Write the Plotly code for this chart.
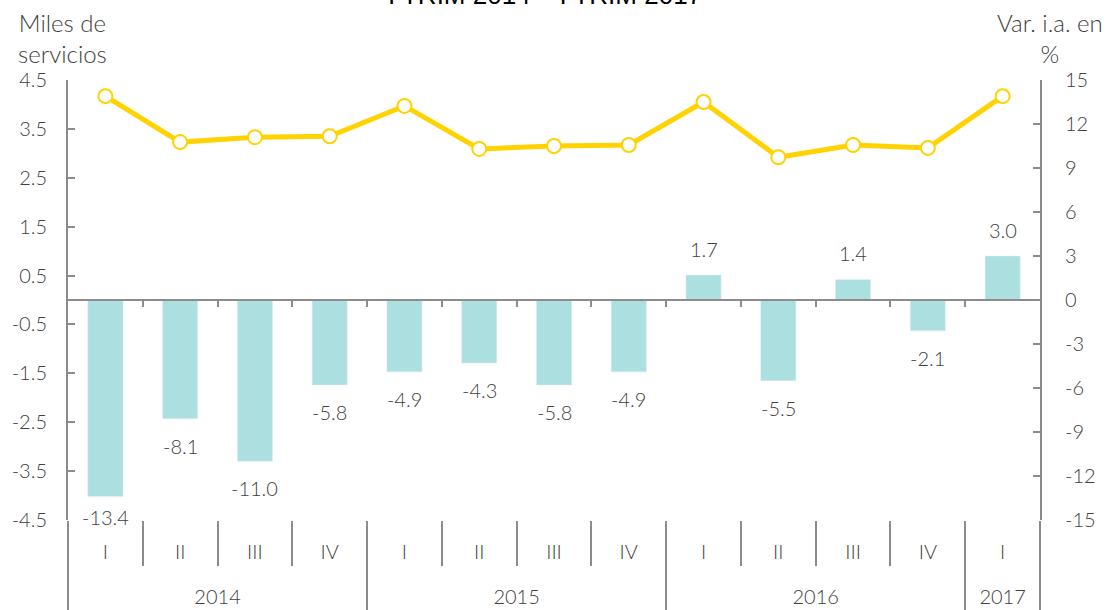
import plotly.graph_objects as go

years = ["2014"] * 4 + ["2015"] * 4 + ["2016"] * 4 + ["2017"]
quarters = ["I", "II", "III", "IV"] * 3 + ["I"]
var_pct = [-13.4, -8.1, -11.0, -5.8, -4.9, -4.3, -5.8, -4.9, 1.7, -5.5, 1.4, -2.1, 3.0]
miles_servicios = [4.17, 3.23, 3.33, 3.35, 3.97, 3.09, 3.15, 3.17, 4.05, 2.92, 3.17, 3.11, 4.17]
left_ticks = [-4.5, -3.5, -2.5, -1.5, -0.5, 0.5, 1.5, 2.5, 3.5, 4.5]
right_ticks = [-15, -12, -9, -6, -3, 0, 3, 6, 9, 12, 15]
title_text = "I TRIM 2014 – I TRIM 2017"
left_title = "Miles de<br>servicios"
right_title = "Var. i.a. en<br>%"

FONT = "Lato"
W = 300
TXT = "#404040"
AX = "#8c8c8c"
BAR = "#acdfe0"
LINE = "#ffd200"

PLOT_H = 440
Y_RANGE = [-15, 15]

idx = list(range(len(quarters)))
n = len(idx)

# year groups (from data)
year_names, year_centers, year_bounds = [], [], [-0.5]
for i, y in enumerate(years):
    if not year_names or year_names[-1] != y:
        if year_names:
            year_bounds.append(i - 0.5)
        year_names.append(y)
year_bounds.append(n - 0.5)
for k in range(len(year_names)):
    year_centers.append((year_bounds[k] + year_bounds[k + 1]) / 2)

fig = go.Figure()
fig.add_trace(go.Bar(
    x=idx, y=var_pct, marker_color=BAR, width=0.47,
    xaxis="x", yaxis="y", showlegend=False, hoverinfo="y",
))
fig.add_trace(go.Scatter(
    x=idx, y=miles_servicios, mode="lines+markers",
    line=dict(color=LINE, width=5),
    marker=dict(size=14, color="white", line=dict(color=LINE, width=2)),
    xaxis="x2", yaxis="y2", showlegend=False, cliponaxis=False,
))
fig.add_trace(go.Scatter(x=[], y=[], xaxis="x3", yaxis="y2", showlegend=False))


def label_shift(v):
    if v >= 0:
        return 12
    # labels stay close to the plot area bottom, as in the original
    px_to_bottom = (v - Y_RANGE[0]) / (Y_RANGE[1] - Y_RANGE[0]) * PLOT_H
    return -min(13, max(4, px_to_bottom - 17))


annotations = [
    dict(xref="x", yref="y", x=i, y=v, text=f"{v:.1f}", showarrow=False,
         yanchor="bottom" if v >= 0 else "top", yshift=label_shift(v),
         font=dict(size=20, color=TXT, family=FONT, weight=W))
    for i, v in zip(idx, var_pct)
]
annotations += [
    dict(text=title_text, xref="paper", yref="paper", x=(545 - 68) / 972, y=1.1545,
         xanchor="center", yanchor="bottom", showarrow=False,
         font=dict(size=26, color="#000000", family="Liberation Sans")),
    dict(text=left_title, xref="paper", yref="paper", x=-0.006, y=1.022,
         xanchor="center", yanchor="bottom", showarrow=False,
         font=dict(size=24, color=TXT, family=FONT, weight=W)),
    dict(text=right_title, xref="paper", yref="paper", x=1.0103, y=1.022,
         xanchor="center", yanchor="bottom", showarrow=False,
         font=dict(size=24, color=TXT, family=FONT, weight=W)),
]

tickfont = dict(size=20, color=TXT, family=FONT, weight=W)

fig.update_layout(
    width=1120, height=610,
    margin=dict(l=68, r=80, t=80, b=90, autoexpand=False),
    paper_bgcolor="white", plot_bgcolor="white",
    font=dict(family=FONT, size=20, color=TXT, weight=W),
    xaxis=dict(
        automargin=False,
        range=[-0.5, n - 0.5], tickvals=idx, ticktext=quarters,
        showline=False, showgrid=False, zeroline=False,
        ticks="outside", ticklen=1, tickcolor="rgba(0,0,0,0)",
        minor=dict(tickvals=[b + 0.5 for b in idx[:-1]], ticks="outside",
                   ticklen=45, tickwidth=2, tickcolor=AX, showgrid=False),
        tickfont=tickfont, ticklabelstandoff=13,
    ),
    xaxis2=dict(
        automargin=False,
        overlaying="x", anchor="free", position=0.5, range=[-0.5, n - 0.5],
        showline=True, linecolor=AX, linewidth=2, showgrid=False, zeroline=False,
        ticks="outside", tickvals=[i + 0.5 for i in idx[:-1]], ticklen=6,
        tickwidth=2, tickcolor=AX, showticklabels=False,
    ),
    xaxis3=dict(
        automargin=False,
        overlaying="x", anchor="free", position=0, side="bottom", range=[-0.5, n - 0.5],
        tickvals=year_centers, ticktext=year_names,
        showline=False, showgrid=False, zeroline=False,
        ticks="outside", ticklen=1, tickcolor="rgba(0,0,0,0)",
        minor=dict(tickvals=year_bounds, ticks="outside", ticklen=90,
                   tickwidth=2, tickcolor=AX, showgrid=False),
        tickfont=tickfont, ticklabelstandoff=58,
    ),
    yaxis=dict(
        automargin=False,
        side="right", range=Y_RANGE, tickvals=right_ticks,
        ticktext=[str(v) for v in right_ticks],
        ticks="inside", ticklen=7, tickwidth=2, tickcolor=AX,
        showline=True, linecolor=AX, linewidth=2, showgrid=False, zeroline=False,
        tickfont=tickfont, ticklabelstandoff=19,
    ),
    yaxis2=dict(
        automargin=False,
        overlaying="y", side="left", range=[-4.5, 4.5], tickvals=left_ticks,
        ticktext=[f"{v:.1f}" for v in left_ticks],
        ticks="inside", ticklen=7, tickwidth=2, tickcolor=AX,
        showline=True, linecolor=AX, linewidth=2, showgrid=False, zeroline=False,
        tickfont=tickfont, ticklabelstandoff=15,
    ),
    annotations=annotations,
)

fig.write_html("out.html", config={"displayModeBar": False},
               post_script="document.body.style.margin='0px';")
